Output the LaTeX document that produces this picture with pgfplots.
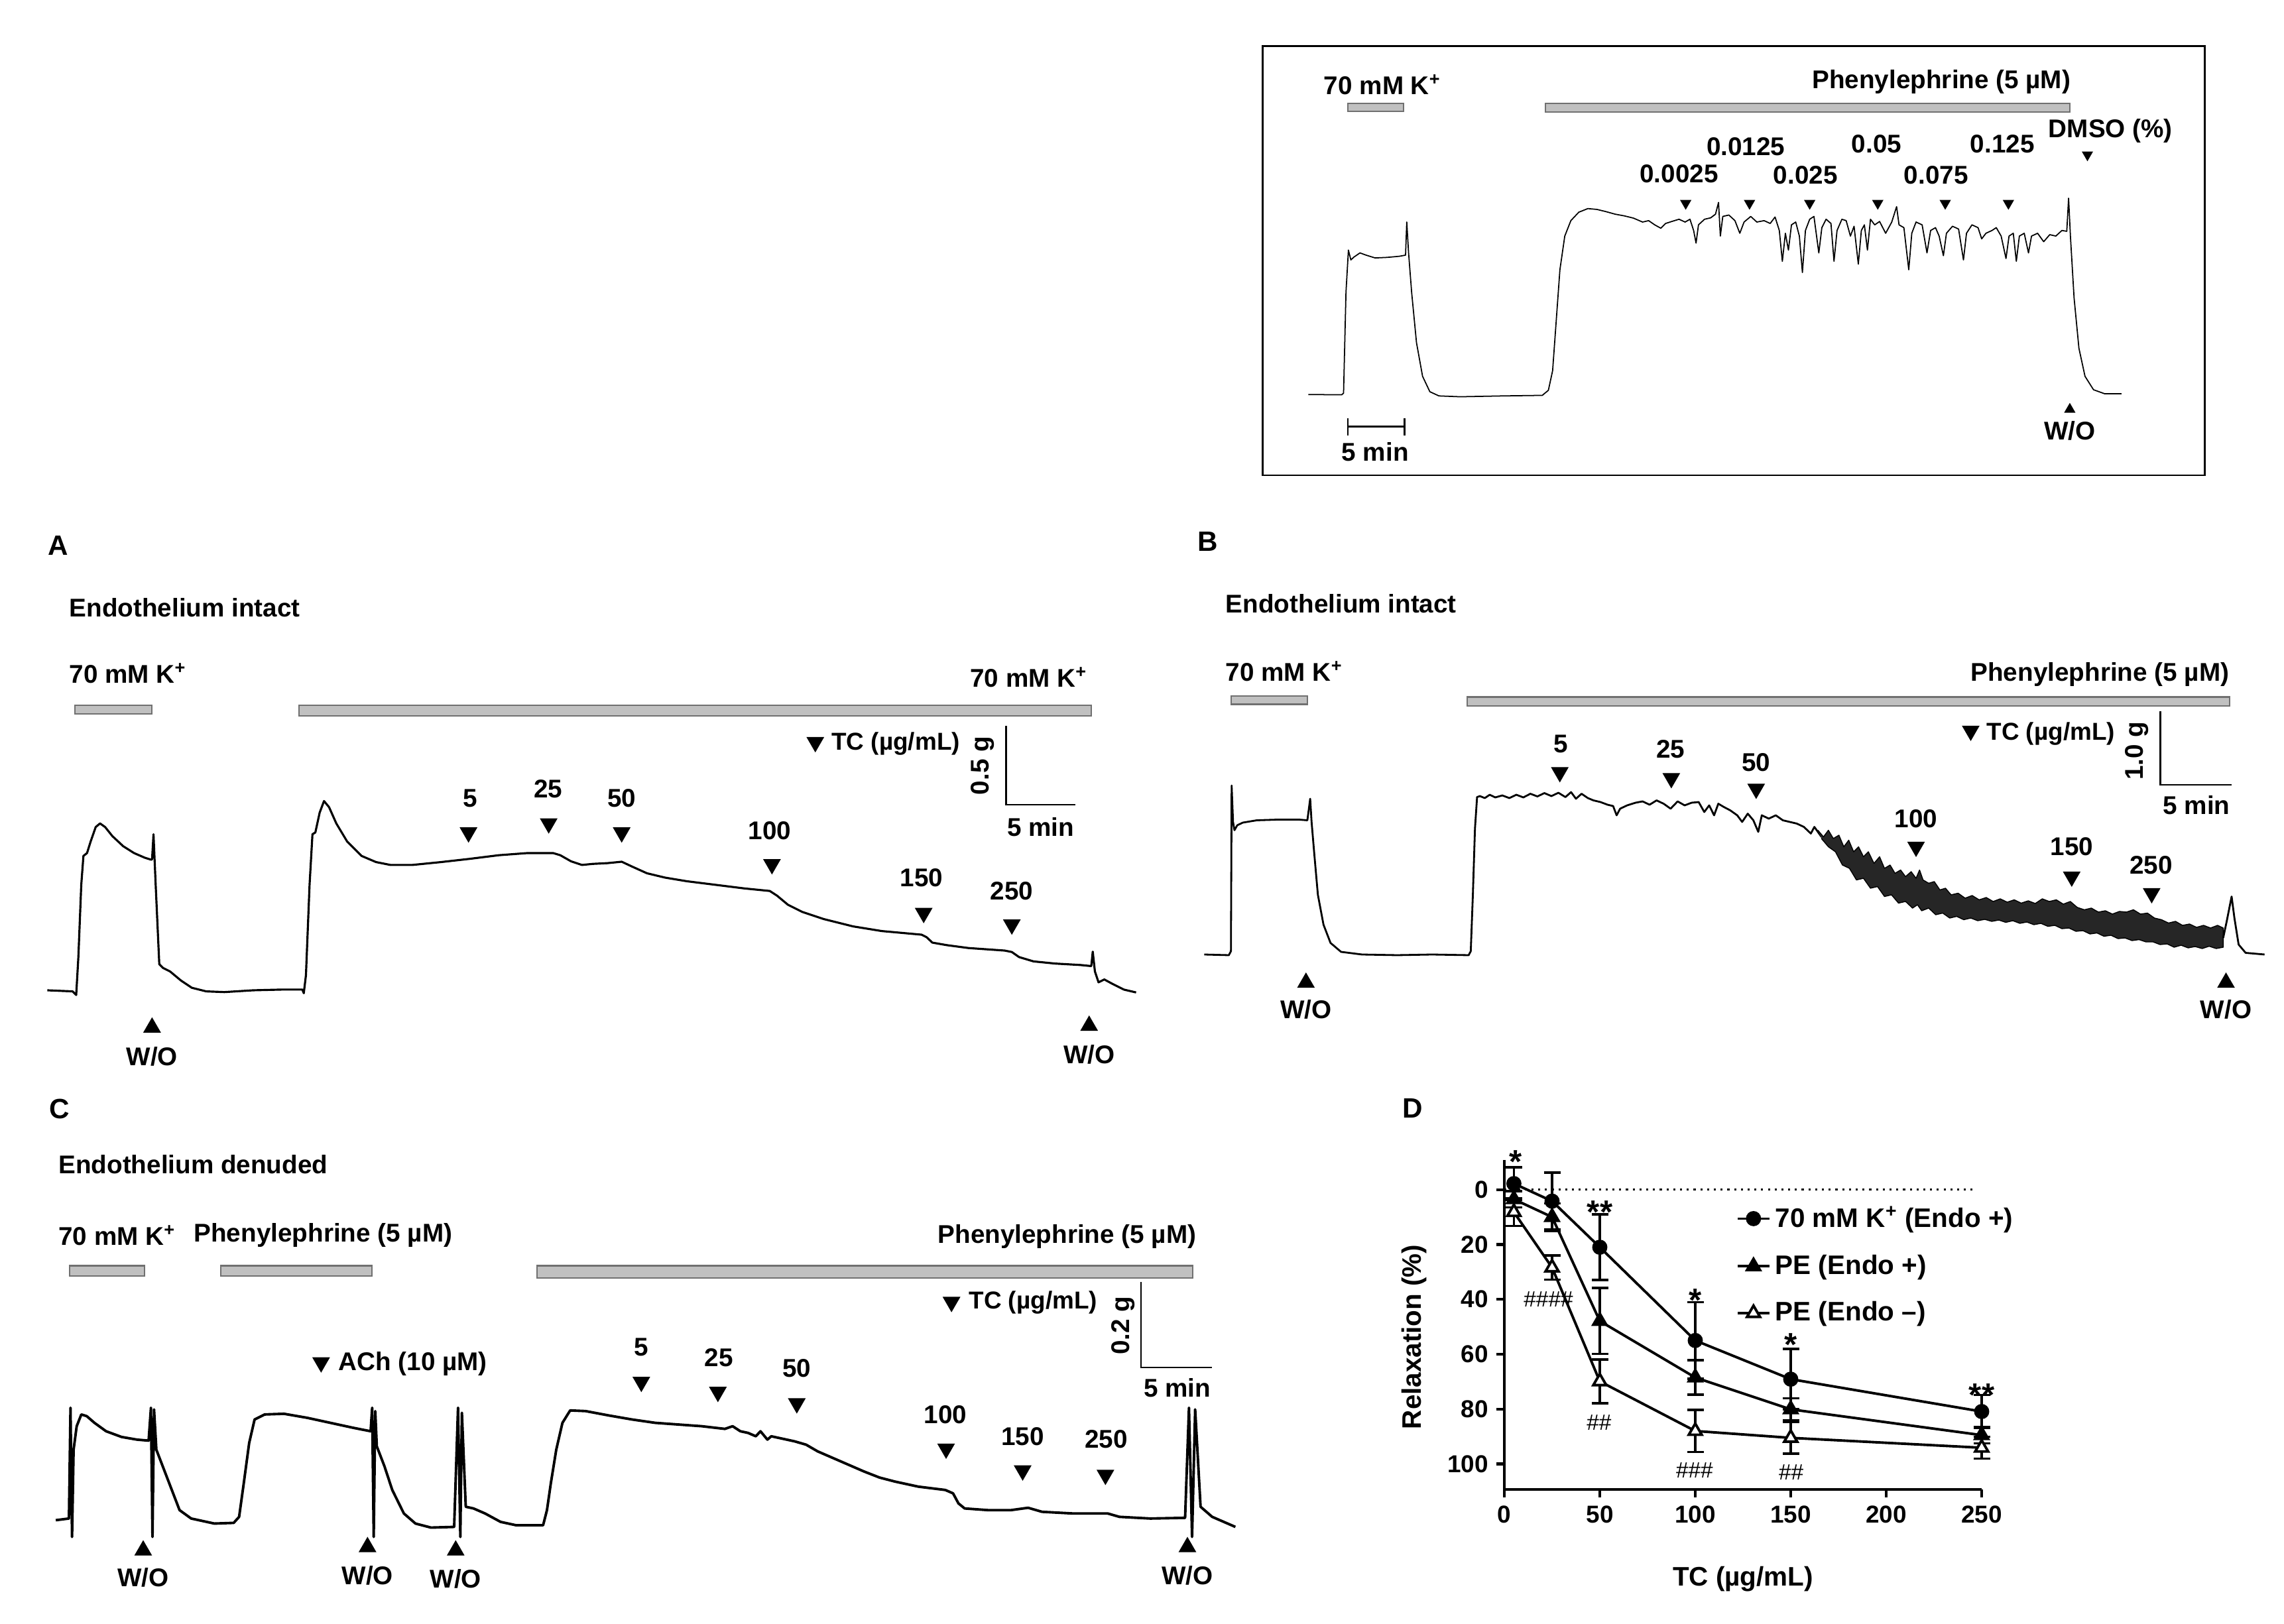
\documentclass[border=0pt]{standalone}
\usepackage{fontspec}
\setmainfont{Liberation Sans}
\usepackage{pgfplots}
\pgfplotsset{compat=1.18}
\newcommand\lab{\fontsize{11}{13}\selectfont\bfseries}
\newcommand\Kp{K\textsuperscript{+}}
\definecolor{barfill}{HTML}{C0C0C0}
\definecolor{barline}{HTML}{707070}
\pgfplotsset{
  trace/.style={scale only axis, hide axis, clip=false, anchor=north west,
    xmin=0, xmax=1560, ymin=0, ymax=1560, y dir=reverse},
  sig/.style={black, line width=0.9pt, line join=round},
  down/.style={only marks, mark=triangle*, mark size=4pt, mark options={rotate=180, fill=black, draw=black}},
  up/.style={only marks, mark=triangle*, mark size=4pt, mark options={fill=black, draw=black}},
}
\tikzset{drug/.style={fill=barfill, draw=barline, line width=0.6pt},
  lbl/.style={font=\lab, inner sep=0pt},
  tcl/.style={font=\fontsize{10.5}{12}\selectfont\bfseries, inner sep=0pt, anchor=west}}
\begin{document}
\begin{tikzpicture}
\path[use as bounding box] (0,0) rectangle (344.5mm,245mm);

% ---------- inset: DMSO control ----------
\begin{axis}[trace, at={(190mm,239mm)}, width=143mm, height=66mm]
\draw[line width=0.8pt] (axis cs:5,22) rectangle (axis cs:1555,1553);
\node[lbl, anchor=west] at (axis cs:105,160) {70 mM \Kp};
\draw[drug] (axis cs:145,228) rectangle (axis cs:237,256);
\node[lbl, anchor=east] at (axis cs:1335,150) {Phenylephrine (5 µM)};
\draw[drug] (axis cs:470,226) rectangle (axis cs:1333,257);
\node[lbl] at (axis cs:1400,325) {DMSO (\%)};
\node[lbl] at (axis cs:690,478) {0.0025};
\node[lbl] at (axis cs:800,380) {0.0125};
\node[lbl] at (axis cs:898,482) {0.025};
\node[lbl] at (axis cs:1015,372) {0.05};
\node[lbl] at (axis cs:1113,482) {0.075};
\node[lbl] at (axis cs:1222,372) {0.125};
\addplot[down, mark size=2.4pt] coordinates {(701,583) (806,583) (905,583) (1017,583) (1128,583) (1232,583) (1362,410)};
\addplot[up, mark size=2.4pt] coordinates {(1333,1318)};
\node[lbl] at (axis cs:1333,1395) {W/O};
\draw[line width=0.8pt] (axis cs:145,1380) -- (axis cs:238,1380);
\draw[line width=0.8pt] (axis cs:145,1350) -- (axis cs:145,1410);
\draw[line width=0.8pt] (axis cs:238,1350) -- (axis cs:238,1410);
\node[lbl] at (axis cs:190,1470) {5 min};
\addplot[sig, line width=0.5pt] coordinates {
(80,1265) (135,1266) (138,1260) (142,900) (146,750) (150,785) (155,775) (165,760) (175,768)
(190,778) (210,776) (230,772) (240,768) (242,650) (245,760) (250,900) (258,1080) (268,1200)
(280,1255) (295,1270) (330,1273) (400,1270) (465,1268) (475,1250) (482,1180) (488,1000)
(494,820) (502,700) (512,645) (525,615) (540,602) (555,605) (570,613) (585,622) (600,628)
(615,636) (630,650) (640,645) (650,660) (660,672) (668,655) (678,648) (690,640) (700,650)
(708,640) (714,680) (718,725) (722,660) (732,640) (742,635) (750,622) (755,580) (758,700)
(762,630) (772,625) (782,645) (790,690) (797,650) (808,630) (818,650) (830,645) (840,655)
(848,632) (855,680) (860,790) (865,690) (870,750) (875,660) (882,650) (888,700) (893,830)
(898,680) (905,640) (912,630) (920,760) (925,670) (932,640) (940,655) (945,790) (950,680)
(958,640) (965,645) (972,700) (978,665) (985,800) (990,680) (995,660) (1000,750) (1005,640)
(1012,660) (1020,648) (1030,690) (1040,650) (1048,595) (1052,660) (1060,670) (1068,820)
(1073,690) (1080,650) (1090,660) (1098,760) (1104,680) (1112,670) (1118,700) (1125,770)
(1130,690) (1140,665) (1150,675) (1158,785) (1163,690) (1172,660) (1182,670) (1188,710)
(1195,690) (1205,680) (1212,670) (1220,700) (1228,780) (1233,700) (1240,690) (1245,790)
(1250,700) (1258,690) (1265,760) (1270,700) (1280,690) (1290,720) (1300,695) (1310,700)
(1320,680) (1328,683) (1331,565) (1334,700) (1340,920) (1348,1100) (1358,1200) (1372,1248)
(1390,1262) (1418,1262)};
\end{axis}

% ---------- A ----------
\begin{axis}[trace, at={(5.5mm,166mm)}, width=170mm, height=85mm]
\node[font=\fontsize{12}{14}\selectfont\bfseries] at (axis cs:30,60) {A};
\node[lbl, anchor=west] at (axis cs:45,232) {Endothelium intact};
\node[lbl, anchor=west] at (axis cs:45,415) {70 mM \Kp};
\node[lbl, anchor=east] at (axis cs:1455,425) {70 mM \Kp};
\draw[drug] (axis cs:53,503) rectangle (axis cs:160,527);
\draw[drug] (axis cs:363,503) rectangle (axis cs:1460,532);
\node[tcl] at (axis cs:1100,610) {TC (µg/mL)};
\draw[line width=0.8pt] (axis cs:1342,560) -- (axis cs:1342,778) -- (axis cs:1438,778);
\node[lbl, rotate=90] at (axis cs:1310,670) {0.5 g};
\node[lbl] at (axis cs:1390,840) {5 min};
\node[lbl] at (axis cs:600,760) {5};
\node[lbl] at (axis cs:708,735) {25};
\node[lbl] at (axis cs:810,760) {50};
\node[lbl] at (axis cs:1015,850) {100};
\node[lbl] at (axis cs:1225,980) {150};
\node[lbl] at (axis cs:1350,1018) {250};
\addplot[down] coordinates {(598,855) (709,830) (810,855) (1018,943) (1228,1078) (1350,1110) (1078,605)};
\addplot[up] coordinates {(160,1395) (1457,1390)};
\node[lbl] at (axis cs:160,1475) {W/O};
\node[lbl] at (axis cs:1457,1470) {W/O};
\addplot[sig] coordinates {
(15,1292) (50,1295) (55,1305) (58,1200) (62,1000) (65,920) (70,912) (75,880) (82,840) (88,830)
(95,840) (105,865) (120,893) (135,912) (150,925) (158,930) (160,930) (162,860) (165,1000)
(170,1220) (175,1230) (185,1240) (200,1265) (215,1285) (235,1295) (260,1297) (300,1292)
(340,1290) (368,1290) (370,1300) (373,1250) (378,1000) (382,860) (386,855) (392,800) (398,768)
(405,785) (415,830) (430,880) (450,920) (470,937) (490,945) (520,945) (560,937) (600,928)
(640,918) (680,912) (715,912) (725,918) (740,935) (755,945) (770,942) (790,940) (810,936)
(825,950) (845,968) (870,980) (900,990) (940,1000) (980,1010) (1015,1017) (1025,1030)
(1040,1055) (1060,1075) (1090,1095) (1130,1115) (1170,1128) (1225,1138) (1232,1145)
(1240,1160) (1260,1167) (1290,1175) (1340,1182) (1350,1186) (1360,1200) (1380,1212)
(1410,1218) (1445,1222) (1460,1225) (1462,1185) (1465,1240) (1470,1270) (1478,1262)
(1490,1275) (1505,1290) (1522,1298)};
\end{axis}

% ---------- B ----------
\begin{axis}[trace, at={(179mm,166mm)}, width=165mm, height=78mm]
\node[font=\fontsize{12}{14}\selectfont\bfseries] at (axis cs:30,55) {B};
\node[lbl, anchor=west] at (axis cs:55,242) {Endothelium intact};
\node[lbl, anchor=west] at (axis cs:55,445) {70 mM \Kp};
\node[lbl, anchor=east] at (axis cs:1487,455) {Phenylephrine (5 µM)};
\draw[drug] (axis cs:63,520) rectangle (axis cs:172,545);
\draw[drug] (axis cs:400,523) rectangle (axis cs:1487,550);
\node[tcl] at (axis cs:1140,635) {TC (µg/mL)};
\draw[line width=0.8pt] (axis cs:1388,567) -- (axis cs:1388,788) -- (axis cs:1490,788);
\node[lbl, rotate=90] at (axis cs:1355,685) {1.0 g};
\node[lbl] at (axis cs:1440,850) {5 min};
\node[lbl] at (axis cs:533,665) {5};
\node[lbl] at (axis cs:690,680) {25};
\node[lbl] at (axis cs:812,720) {50};
\node[lbl] at (axis cs:1040,890) {100};
\node[lbl] at (axis cs:1262,975) {150};
\node[lbl] at (axis cs:1375,1030) {250};
\addplot[down] coordinates {(532,750) (691,768) (812,800) (1040,975) (1262,1065) (1376,1115) (1118,625)};
\addplot[up] coordinates {(170,1385) (1482,1385)};
\node[lbl] at (axis cs:170,1465) {W/O};
\node[lbl] at (axis cs:1482,1465) {W/O};
\addplot[sig, line width=0.8pt] coordinates {
(25,1300) (60,1302) (63,1290) (64,790) (66,900) (68,925) (72,910) (80,902) (100,895) (130,893)
(160,893) (172,895) (176,830) (178,900) (182,1000) (187,1120) (195,1210) (205,1265) (220,1292)
(250,1300) (300,1302) (350,1300) (402,1302) (405,1290) (408,1120) (411,920) (414,825)
(418,822) (425,828) (432,818) (440,826) (450,820) (460,828) (470,818) (480,826) (490,815)
(500,823) (510,813) (520,822) (530,812) (540,825) (548,810) (555,830) (563,815) (572,828)
(580,835) (590,840) (600,848) (608,852) (613,880) (618,860) (628,850) (640,842) (650,838)
(660,848) (670,835) (680,845) (690,860) (700,838) (710,850) (720,842) (730,840) (738,870)
(745,850) (752,880) (758,845) (766,855) (775,865) (785,880) (792,900) (800,875) (808,895)
(815,930) (820,880) (830,890) (840,880) (850,895) (860,900) (870,905) (880,915) (890,935)
(895,915) (905,945)};
% dense noise band after the 50 and 100 doses (upper edge, then lower edge)
\addplot[fill=black!85, draw=black, line width=0.4pt, line join=round] coordinates {
(900,925) (908,945) (915,925) (922,950) (930,940) (937,975) (944,955) (951,990) (958,975)
(965,1005) (972,990) (980,1025) (988,1005) (995,1040) (1003,1030) (1010,1055) (1018,1045)
(1025,1065) (1033,1050) (1040,1070) (1045,1045) (1050,1075) (1058,1085) (1066,1080)
(1074,1105) (1082,1100) (1090,1120) (1100,1115) (1110,1130) (1120,1122) (1130,1135)
(1140,1128) (1150,1140) (1160,1132) (1170,1142) (1180,1135) (1190,1145) (1200,1138)
(1210,1146) (1220,1132) (1230,1140) (1240,1135) (1250,1148) (1260,1140) (1270,1158)
(1280,1165) (1290,1160) (1300,1172) (1310,1168) (1320,1178) (1330,1170) (1340,1172)
(1350,1165) (1360,1178) (1370,1175) (1380,1190) (1390,1195) (1400,1205) (1410,1200)
(1420,1212) (1430,1208) (1440,1218) (1450,1212) (1460,1220) (1470,1212) (1478,1220)
(1478,1278) (1468,1282) (1458,1275) (1448,1282) (1438,1276) (1428,1280) (1418,1272)
(1408,1278) (1398,1268) (1388,1270) (1378,1262) (1368,1262) (1358,1255) (1348,1258)
(1338,1250) (1328,1252) (1318,1242) (1308,1245) (1298,1235) (1288,1238) (1278,1228)
(1268,1230) (1258,1220) (1248,1222) (1238,1212) (1228,1215) (1218,1206) (1208,1210)
(1198,1202) (1188,1206) (1178,1198) (1168,1203) (1158,1196) (1148,1200) (1138,1194)
(1128,1198) (1118,1190) (1108,1195) (1098,1185) (1088,1190) (1078,1175) (1068,1180)
(1058,1160) (1048,1168) (1042,1150) (1035,1160) (1025,1140) (1015,1145) (1005,1120)
(995,1125) (985,1095) (975,1100) (965,1070) (955,1075) (945,1040) (935,1030) (925,990)
(915,975) (905,950)};
\addplot[sig, line width=0.8pt] coordinates {
(1478,1250) (1483,1200) (1490,1125) (1494,1190) (1500,1270) (1510,1295) (1537,1300)};
\end{axis}

% ---------- C ----------
\begin{axis}[trace, at={(5.5mm,82mm)}, width=182mm, height=79mm]
\node[font=\fontsize{12}{14}\selectfont\bfseries] at (axis cs:30,85) {C};
\node[lbl, anchor=west] at (axis cs:28,250) {Endothelium denuded};
\node[lbl, anchor=west] at (axis cs:28,462) {70 mM \Kp};
\node[lbl, anchor=west] at (axis cs:203,462) {Phenylephrine (5 µM)};
\node[lbl, anchor=east] at (axis cs:1500,465) {Phenylephrine (5 µM)};
\draw[drug] (axis cs:43,552) rectangle (axis cs:140,583);
\draw[drug] (axis cs:238,552) rectangle (axis cs:434,583);
\draw[drug] (axis cs:647,552) rectangle (axis cs:1495,588);
\node[tcl] at (axis cs:1205,662) {TC (µg/mL)};
\node[lbl, anchor=west] at (axis cs:390,845) {ACh (10 µM)};
\draw[line width=0.8pt] (axis cs:1428,600) -- (axis cs:1428,855) -- (axis cs:1520,855);
\node[lbl, rotate=90] at (axis cs:1405,730) {0.2 g};
\node[lbl] at (axis cs:1475,915) {5 min};
\node[lbl] at (axis cs:782,795) {5};
\node[lbl] at (axis cs:882,825) {25};
\node[lbl] at (axis cs:983,858) {50};
\node[lbl] at (axis cs:1175,995) {100};
\node[lbl] at (axis cs:1275,1060) {150};
\node[lbl] at (axis cs:1383,1068) {250};
\addplot[down] coordinates {(782,898) (881,928) (983,962) (1176,1097) (1275,1162) (1382,1175) (1183,660) (368,840)};
\addplot[up] coordinates {(138,1400) (428,1390) (542,1400) (1488,1390)};
\node[lbl] at (axis cs:138,1480) {W/O};
\node[lbl] at (axis cs:428,1475) {W/O};
\node[lbl] at (axis cs:542,1485) {W/O};
\node[lbl] at (axis cs:1488,1475) {W/O};
\addplot[sig, line width=1.1pt] coordinates {
(25,1310) (42,1305) (44,975) (46,1360) (48,1100) (52,1030) (58,995) (65,1000) (75,1020)
(90,1045) (110,1062) (130,1070) (145,1073) (148,975) (150,1360) (152,980) (155,1100)
(165,1160) (175,1220) (185,1280) (200,1305) (230,1320) (255,1318) (262,1300) (268,1200)
(275,1080) (282,1010) (295,995) (320,993) (350,1005) (380,1020) (410,1035) (432,1045)
(434,975) (436,1360) (438,985) (440,1090) (450,1150) (460,1220) (475,1290) (490,1320)
(510,1332) (540,1330) (545,975) (548,1360) (550,990) (555,1270) (565,1275) (580,1290)
(600,1315) (620,1325) (655,1325) (660,1280) (665,1200) (672,1100) (680,1020) (690,983)
(710,985) (740,998) (770,1010) (800,1020) (830,1025) (860,1030) (890,1038) (900,1030)
(910,1045) (920,1050) (930,1060) (936,1045) (945,1070) (950,1060) (980,1075) (995,1085)
(1010,1105) (1030,1125) (1050,1145) (1070,1165)
(1090,1183) (1110,1195) (1140,1210) (1175,1220) (1185,1230) (1192,1260) (1200,1275)
(1230,1280) (1260,1280) (1282,1273) (1300,1285) (1340,1290) (1385,1290) (1400,1300)
(1440,1305) (1485,1303) (1490,975) (1494,1360) (1498,980) (1505,1270) (1520,1300)
(1540,1320) (1550,1330)};
\end{axis}

% ---------- D ----------
\node[font=\fontsize{12}{14}\selectfont\bfseries] at (213.1mm,77.8mm) {D};
\begin{axis}[at={(226.9mm,70mm)}, anchor=north west, scale only axis,
  width=72mm, height=49.7mm,
  xmin=0, xmax=250, ymin=-10.8, ymax=109.3, y dir=reverse,
  axis x line*=bottom, axis y line*=left,
  axis line style={line width=1.2pt},
  xtick={0,50,...,250}, ytick={0,20,...,100},
  tick align=outside, major tick length=1.2mm,
  tick style={line width=1.2pt, black},
  /pgf/number format/assume math mode=true,
  ticklabel style={font=\fontsize{10.5}{12}\selectfont\bfseries},
  xlabel={TC (µg/mL)}, ylabel={Relaxation (\%)},
  label style={font=\fontsize{11.5}{13}\selectfont\bfseries},
  xlabel style={at={(axis description cs:0.5,-0.272)}, anchor=center},
  ylabel style={at={(axis description cs:-0.189,0.463)}, anchor=center},
  clip=false,
  legend style={at={(0.485,0.875)}, anchor=north west, draw=none, fill=none,
    inner sep=0pt, row sep=2.2mm, font=\fontsize{11.5}{13}\selectfont\bfseries},
  legend cell align=left,
  legend image code/.code={\draw[#1, mark repeat=2, mark phase=2] plot coordinates {(0mm,0mm) (2.4mm,0mm) (4.8mm,0mm)};},
  error bars/y dir=both, error bars/y explicit,
  error bars/error bar style={line width=1pt, black},
  error bars/error mark options={line width=1pt, black, mark size=1.25mm, rotate=90},
]
\addplot[black, dotted, line width=0.9pt, forget plot] coordinates {(0,0) (246,0)};
\addplot[black, line width=1.1pt, mark=*, mark size=2.7pt] coordinates {
(5,-2.2) +- (0,5.9) (25,4.2) +- (0,10.4) (50,21) +- (0,12) (100,55) +- (0,14)
(150,69.1) +- (0,11) (250,80.9) +- (0,6)};
\addlegendentry{70 mM \Kp\ (Endo +)}
\addplot[black, line width=1.1pt, mark=triangle*, mark size=3.2pt] coordinates {
(5,3.5) +- (0,3) (25,10) +- (0,5) (50,47.9) +- (0,12) (100,68.5) +- (0,6.3)
(150,80.1) +- (0,4) (250,89.5) +- (0,3)};
\addlegendentry{PE (Endo +)}
\addplot[black, line width=1.1pt, mark=triangle*, mark size=3.2pt, mark options={fill=white}] coordinates {
(5,8.2) +- (0,5) (25,28.4) +- (0,4.4) (50,69.9) +- (0,8) (100,88) +- (0,7.7)
(150,90.5) +- (0,5.7) (250,94.1) +- (0,4)};
\addlegendentry{PE (Endo –)}
\node[font=\fontsize{14}{14}\selectfont\bfseries] at (axis cs:6,-10.2) {*};
\node[font=\fontsize{14}{14}\selectfont\bfseries] at (axis cs:50,8.1) {**};
\node[font=\fontsize{14}{14}\selectfont\bfseries] at (axis cs:100,40.4) {*};
\node[font=\fontsize{14}{14}\selectfont\bfseries] at (axis cs:150,56.4) {*};
\node[font=\fontsize{14}{14}\selectfont\bfseries] at (axis cs:250,74.8) {**};
\node[font=\fontsize{9.5}{11}\selectfont] at (axis cs:23.1,40) {\#\#\#\#};
\node[font=\fontsize{9.5}{11}\selectfont] at (axis cs:49.6,84.8) {\#\#};
\node[font=\fontsize{9.5}{11}\selectfont] at (axis cs:99.6,102.3) {\#\#\#};
\node[font=\fontsize{9.5}{11}\selectfont] at (axis cs:150.2,103) {\#\#};
\end{axis}
\end{tikzpicture}
\end{document}
